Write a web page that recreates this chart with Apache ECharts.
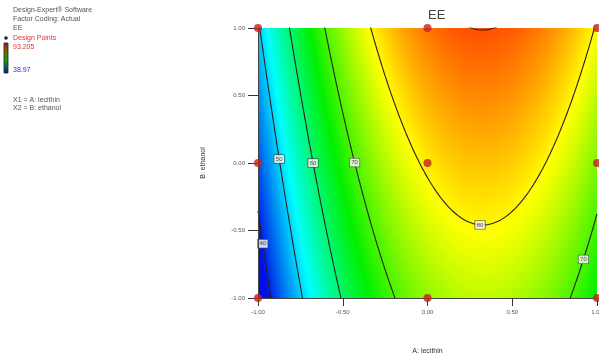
<!DOCTYPE html>
<html>
<head>
<meta charset="utf-8">
<script src="https://cdn.jsdelivr.net/npm/echarts/dist/echarts.min.js"></script>
<style>
  html, body { margin: 0; padding: 0; background: #fff; }
  #main { width: 599px; height: 358px; }
</style>
</head>
<body>
<div id="main"></div>
<script>
// design runs (coded levels) and the observed EE response
var runA = [-1, 0, 1, -1, 0, 1, -1, 0, 1];
var runB = [-1, -1, -1, 0, 0, 0, 1, 1, 1];
var runEE = [38.97, 70.75, 65.13, 39.75, 78.20, 77.91, 48.60, 93.205, 74.76];

// contour levels drawn, and the levels that carry a label
var contourLevels = [40, 50, 60, 70, 80, 90];
var labelLevels = [40, 50, 60, 70, 80, 70];

var infoLines = ['Design-Expert\u00ae Software', 'Factor Coding: Actual', 'EE'];
var factorLines = ['X1 = A: lecithin', 'X2 = B: ethanol'];

// where along A each contour label sits (layout only)
var labelAnchorA = [-0.972, -0.875, -0.675, -0.43, 0.31, 0.92];

var palette = ['#0010e8', '#00ffff', '#00f000', '#ffff00', '#ff1a00'];
var font = 'Liberation Sans';

// fit the quadratic response surface to the runs (least squares)
var solve = function (M, v) {
    var n = v.length, i, r, c;
    for (i = 0; i < n; i++) {
        var p = i;
        for (r = i + 1; r < n; r++) if (Math.abs(M[r][i]) > Math.abs(M[p][i])) p = r;
        var t = M[i]; M[i] = M[p]; M[p] = t;
        var tv = v[i]; v[i] = v[p]; v[p] = tv;
        for (r = i + 1; r < n; r++) {
            var f = M[r][i] / M[i][i];
            for (c = i; c < n; c++) M[r][c] -= f * M[i][c];
            v[r] -= f * v[i];
        }
    }
    var x = [];
    for (i = n - 1; i >= 0; i--) {
        var s = v[i];
        for (c = i + 1; c < n; c++) s -= M[i][c] * x[c];
        x[i] = s / M[i][i];
    }
    return x;
};
var fitModel = function () {
    var M = [], v = [], i, r, c;
    for (r = 0; r < 6; r++) { M.push([0, 0, 0, 0, 0, 0]); v.push(0); }
    for (i = 0; i < runA.length; i++) {
        var a = runA[i], b = runB[i];
        var x = [1, a, b, a * b, a * a, b * b];
        for (r = 0; r < 6; r++) {
            for (c = 0; c < 6; c++) M[r][c] += x[r] * x[c];
            v[r] += x[r] * runEE[i];
        }
    }
    return solve(M, v);
};
var coef = fitModel();
var predict = function (a, b) {
    return coef[0] + coef[1] * a + coef[2] * b + coef[3] * a * b + coef[4] * a * a + coef[5] * b * b;
};
// B on a contour for a given A
var contourB = function (level, a) {
    var q2 = coef[5], q1 = coef[2] + coef[3] * a, q0 = coef[0] + coef[1] * a + coef[4] * a * a - level;
    var b;
    if (Math.abs(q2) < 1e-9) {
        b = -q0 / q1;
    } else {
        var d = q1 * q1 - 4 * q2 * q0;
        if (d < 0) return null;
        var r1 = (-q1 + Math.sqrt(d)) / (2 * q2), r2 = (-q1 - Math.sqrt(d)) / (2 * q2);
        b = Math.abs(r1) < Math.abs(r2) ? r1 : r2;
    }
    return Math.abs(b) > 1.6 ? null : b;
};

var minEE = Math.min.apply(null, runEE), maxEE = Math.max.apply(null, runEE);

// surface cells
var nA = 170, nB = 135, halfA = 1 / nA, halfB = 1 / nB;
var surface = [];
for (var j = 0; j < nB; j++) {
    var bc = -1 + (2 * j + 1) / nB;
    for (var i = 0; i < nA; i++) {
        var ac = -1 + (2 * i + 1) / nA;
        surface.push([ac, bc, predict(ac, bc)]);
    }
}

var contourSeries = contourLevels.map(function (level) {
    var pts = [];
    for (var k = 0; k <= 1200; k++) {
        var a = -1 + 2 * k / 1200;
        var b = contourB(level, a);
        pts.push(b === null ? [a, '-'] : [a, b]);
    }
    return {
        type: 'line', data: pts, symbol: 'none', clip: true, silent: true,
        lineStyle: { color: '#222', width: 1.1 }, z: 4, animation: false
    };
});

var labelData = labelLevels.map(function (level, i) {
    return { value: [labelAnchorA[i], contourB(level, labelAnchorA[i])], level: level };
});

var myChart = echarts.init(document.getElementById('main'));
var axisText = { fontSize: 6, color: '#555', fontFamily: font };

myChart.setOption({
    backgroundColor: '#fff',
    animation: false,
    textStyle: { fontFamily: font },
    grid: { left: 258, right: 2, top: 28, bottom: 60, outerBoundsMode: 'none', containLabel: false },
    xAxis: {
        type: 'value', min: -1, max: 1, interval: 0.5, z: 10,
        name: 'A: lecithin', nameLocation: 'middle', nameGap: 50,
        nameTextStyle: { fontSize: 7, color: '#333', fontFamily: font },
        axisLine: { onZero: false, lineStyle: { color: '#444', width: 1 } },
        axisTick: { length: 8, lineStyle: { color: '#333' } },
        axisLabel: Object.assign({ margin: 11, formatter: function (v) { return v.toFixed(2); } }, axisText),
        splitLine: { show: false }
    },
    yAxis: {
        type: 'value', min: -1, max: 1, interval: 0.5, z: 10,
        name: 'B: ethanol', nameLocation: 'middle', nameGap: 51,
        nameTextStyle: { fontSize: 7, color: '#333', fontFamily: font },
        axisLine: { onZero: false, lineStyle: { color: '#444', width: 1 } },
        axisTick: { length: 10, lineStyle: { color: '#333' } },
        axisLabel: Object.assign({ margin: 13, formatter: function (v) { return v.toFixed(2); } }, axisText),
        splitLine: { show: false }
    },
    visualMap: {
        show: false, type: 'continuous', seriesIndex: 0, dimension: 2,
        min: minEE, max: maxEE, inRange: { color: palette }
    },
    graphic: [
        { type: 'text', left: 428, top: 9, style: { text: 'EE', font: '13px ' + font, fill: '#444', textAlign: 'center' } },
        { type: 'text', x: 13, y: 10, style: { text: infoLines[0], font: '7px ' + font, fill: '#555', textVerticalAlign: 'middle' } },
        { type: 'text', x: 13, y: 19, style: { text: infoLines[1], font: '7px ' + font, fill: '#555', textVerticalAlign: 'middle' } },
        { type: 'text', x: 13, y: 28, style: { text: infoLines[2], font: '7px ' + font, fill: '#555', textVerticalAlign: 'middle' } },
        { type: 'circle', shape: { cx: 6, cy: 38, r: 1.8 }, style: { fill: '#222' } },
        { type: 'text', x: 13, y: 38, style: { text: 'Design Points', font: '7px ' + font, fill: '#e53030', textVerticalAlign: 'middle' } },
        {
            type: 'rect', shape: { x: 4, y: 43, width: 4, height: 30 },
            style: {
                stroke: '#222', lineWidth: 0.8,
                fill: new echarts.graphic.LinearGradient(0, 0, 0, 1, [
                    { offset: 0, color: '#b01010' }, { offset: 0.3, color: '#707000' },
                    { offset: 0.55, color: '#10a010' }, { offset: 0.8, color: '#006060' },
                    { offset: 1, color: '#1010b0' }
                ])
            }
        },
        { type: 'text', x: 13, y: 47, style: { text: String(maxEE), font: '7px ' + font, fill: '#e53030', textVerticalAlign: 'middle' } },
        { type: 'text', x: 13, y: 70, style: { text: String(minEE), font: '7px ' + font, fill: '#3030e0', textVerticalAlign: 'middle' } },
        { type: 'text', x: 13, y: 100, style: { text: factorLines[0], font: '7px ' + font, fill: '#555', textVerticalAlign: 'middle' } },
        { type: 'text', x: 13, y: 108, style: { text: factorLines[1], font: '7px ' + font, fill: '#555', textVerticalAlign: 'middle' } }
    ],
    series: [
        {
            type: 'custom', data: surface, clip: true, silent: true, z: 1, progressive: 0,
            encode: { x: 0, y: 1 },
            renderItem: function (params, api) {
                var p0 = api.coord([api.value(0) - halfA, api.value(1) + halfB]);
                var p1 = api.coord([api.value(0) + halfA, api.value(1) - halfB]);
                return {
                    type: 'rect',
                    shape: { x: p0[0], y: p0[1], width: p1[0] - p0[0] + 0.6, height: p1[1] - p0[1] + 0.6 },
                    style: { fill: api.visual('color') }
                };
            }
        }
    ].concat(contourSeries).concat([
        {
            type: 'scatter', data: labelData, symbolSize: 2, z: 6, silent: true,
            itemStyle: { color: 'rgba(0,0,0,0)' },
            label: {
                show: true, position: 'inside', fontSize: 6, color: '#222', fontFamily: font,
                backgroundColor: '#fff', borderColor: '#444', borderWidth: 0.7, padding: [1.5, 1.5, 0.5, 1.5],
                formatter: function (p) { return String(p.data.level); }
            },
            labelLayout: { hideOverlap: false }
        },
        {
            type: 'scatter', symbol: 'circle', symbolSize: 8, clip: false, z: 20,
            itemStyle: { color: '#c4211d' },
            data: runA.map(function (a, i) { return [a, runB[i]]; })
        }
    ])
});
</script>
</body>
</html>
